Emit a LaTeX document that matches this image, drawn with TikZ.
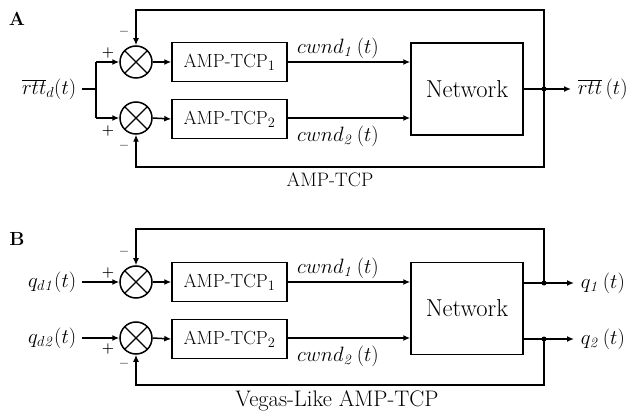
\documentclass[tikz,border=0pt]{standalone}
\usetikzlibrary{arrows.meta}
\newcommand\myfs[1]{\fontsize{#1}{#1}\selectfont}
\begin{document}
\begin{tikzpicture}[x=1pt,y=-1pt,
  line width=1.5pt,
  arr/.style={-{Latex[length=7pt,width=6pt]}},
  blk/.style={draw,minimum width=115pt,minimum height=39pt,inner sep=0pt,font=\myfs{19}},
  net/.style={draw,minimum width=112pt,minimum height=92pt,inner sep=0pt,font=\myfs{24.5}},
  summ/.style={draw,circle,minimum size=32pt,inner sep=0pt,
    path picture={\draw[line width=1.2pt] (path picture bounding box.north west)--(path picture bounding box.south east)
      (path picture bounding box.north east)--(path picture bounding box.south west);}},
  sgn/.style={font=\bfseries\myfs{14},inner sep=0pt},
  lbl/.style={font=\myfs{20.5},inner sep=0pt},
  jn/.style={circle,fill,inner sep=0pt,minimum size=5pt},
  captxt/.style={font=\myfs{19.5},inner sep=0pt}]
\useasboundingbox (0,0) rectangle (644,419);

% ---------- Panel A ----------
\node[font=\bfseries\myfs{19},inner sep=0pt] (la) at (17,19) {A};
\node[summ] (a1) at (136,62) {};
\node[summ] (a2) at (136,118) {};
\node[blk] (ab1) at (229.5,62) {AMP-TCP$_1$};
\node[blk] (ab2) at (229.5,119) {AMP-TCP$_2$};
\node[net] (an) at (467,89) {Network};
\node[lbl,anchor=east] (ain) at (77,89) {$\overline{rtt}_d(t)$};
\coordinate (asp) at (96,89);
\coordinate (asp1) at (96,62);
\coordinate (asp2) at (96,118);
\draw ([xshift=5pt]ain.east) -- (asp);
\draw (asp1) -- (asp2);
\draw[arr] (asp1) -- (a1.west);
\draw[arr] (asp2) -- (a2.west);
\draw[arr] (a1.east) -- (ab1.west);
\draw[arr] (a2.east) -- (ab2.west);
\draw[arr] (ab1.east) -- (an.west |- ab1.east);
\draw[arr] (ab2.east |- a2) -- (an.west |- a2);
\node[lbl] (ac1) at (338,48) {$cwnd_{\mathit{1}}\,(t)$};
\node[lbl] (ac2) at (338,136) {$cwnd_{\mathit{2}}\,(t)$};
\coordinate (aj) at (544,89);
\node[jn] (ajd) at (aj) {};
\node[lbl,anchor=west] (aout) at (577,89) {$\overline{rtt}\,(t)$};
\draw[arr] (an.east) -- ([xshift=-6pt]aout.west |- an.east);
\coordinate (at1) at (544,10);
\coordinate (at2) at (136,10);
\coordinate (ab3) at (544,167);
\coordinate (ab4) at (136,167);
\draw[arr] (aj) -- (at1) -- (at2) -- (a1.north);
\draw[arr] (aj) -- (ab3) -- (ab4) -- (a2.south);
\node[sgn] (ap1) at (108,53) {+};
\node[sgn] (ap2) at (108,131) {+};
\node[sgn] (am1) at (124,33) {--};
\node[sgn] (am2) at (124,147) {--};
\node[captxt] (acap) at (330,180) {AMP-TCP};

% ---------- Panel B ----------
\node[font=\bfseries\myfs{19},inner sep=0pt] (lb) at (17,239) {B};
\node[summ] (b1) at (136,282) {};
\node[summ] (b2) at (136,338) {};
\node[blk] (bb1) at (229.5,282) {AMP-TCP$_1$};
\node[blk] (bb2) at (229.5,339) {AMP-TCP$_2$};
\node[net] (bn) at (467,308.5) {Network};
\node[lbl,anchor=east] (bin1) at (77,282) {$q_{d\mathit{1}}(t)$};
\node[lbl,anchor=east] (bin2) at (77,338) {$q_{d\mathit{2}}(t)$};
\draw[arr] ([xshift=5pt]bin1.east |- b1) -- (b1.west);
\draw[arr] ([xshift=5pt]bin2.east |- b2) -- (b2.west);
\draw[arr] (b1.east) -- (bb1.west);
\draw[arr] (b2.east) -- (bb2.west);
\draw[arr] (bb1.east |- b1) -- (bn.west |- b1);
\draw[arr] (bb2.east |- b2) -- (bn.west |- b2);
\node[lbl] (bc1) at (338,268) {$cwnd_{\mathit{1}}\,(t)$};
\node[lbl] (bc2) at (338,356) {$cwnd_{\mathit{2}}\,(t)$};
\coordinate (bj1) at (544,283);
\coordinate (bj2) at (544,339);
\node[jn] (bj1d) at (bj1) {};
\node[jn] (bj2d) at (bj2) {};
\node[lbl,anchor=west] (bout1) at (580,283) {$q_{\mathit{1}}\,(t)$};
\node[lbl,anchor=west] (bout2) at (580,339) {$q_{\mathit{2}}\,(t)$};
\draw[arr] (bn.east |- bj1) -- ([xshift=-6pt]bout1.west);
\draw[arr] (bn.east |- bj2) -- ([xshift=-6pt]bout2.west);
\coordinate (bt1) at (544,229);
\coordinate (bt2) at (136,229);
\coordinate (bb3) at (544,385);
\coordinate (bb4) at (136,385);
\draw[arr] (bj1) -- (bt1) -- (bt2) -- (b1.north);
\draw[arr] (bj2) -- (bb3) -- (bb4) -- (b2.south);
\node[sgn] (bp1) at (108,273) {+};
\node[sgn] (bp2) at (108,349) {+};
\node[sgn] (bm1) at (124,253) {--};
\node[sgn] (bm2) at (124,365) {--};
\node[captxt,font=\myfs{22.5}] (bcap) at (337,401) {Vegas-Like AMP-TCP};
\end{tikzpicture}
\end{document}
